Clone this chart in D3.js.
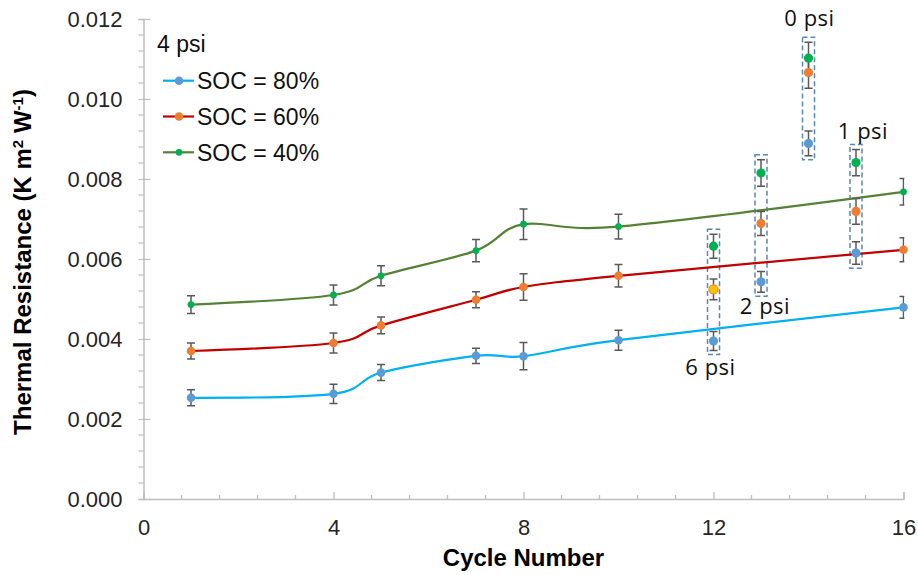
<!DOCTYPE html>
<html>
<head>
<meta charset="utf-8">
<script src="https://cdn.jsdelivr.net/npm/d3@7"></script>
<style>
  body { margin: 0; background: #fff; }
  svg { display: block; font-family: "Liberation Sans", Arial, sans-serif; }
</style>
</head>
<body>
<svg id="chart" width="918" height="575"></svg>
<script>
// cycles with the 4 psi series
const cycles = [1, 4, 5, 7, 8, 10, 16];
const soc80 = [0.00253, 0.00263, 0.00316, 0.00358, 0.00357, 0.00397, 0.00479];
const soc80Err = [0.0002, 0.00024, 0.0002, 0.00019, 0.00034, 0.00025, 0.00027];
const soc60 = [0.0037, 0.0039, 0.00434, 0.00498, 0.0053, 0.00558, 0.00623];
const soc60Err = [0.0002, 0.00025, 0.00021, 0.0002, 0.00033, 0.00028, 0.0003];
const soc40 = [0.00486, 0.0051, 0.00558, 0.00621, 0.00687, 0.00681, 0.00768];
const soc40Err = [0.00022, 0.00025, 0.00025, 0.00028, 0.00038, 0.00031, 0.00033];

// other pressures, single points
const pressureCycles = [12, 13, 14, 15];
const pressureLabels = ["6 psi", "2 psi", "0 psi", "1 psi"];
const p80 = [0.00395, 0.00543, 0.00889, 0.00615];
const p80Err = [0.00024, 0.00026, 0.00031, 0.00028];
const p60 = [0.00524, 0.00689, 0.01066, 0.00719];
const p60Err = [0.00026, 0.0003, 0.00039, 0.00032];
const p40 = [0.00632, 0.00815, 0.01102, 0.00841];
const p40Err = [0.0003, 0.00033, 0.0004, 0.00033];

const legendTitle = "4 psi";
const seriesNames = ["SOC = 80%", "SOC = 60%", "SOC = 40%"];
const xTicks = [0, 4, 8, 12, 16];
const yTicks = [0, 0.002, 0.004, 0.006, 0.008, 0.01, 0.012];

const series = [
	{ name: seriesNames[0], vals: soc80, err: soc80Err, pv: p80, pe: p80Err, line: "#00B0F0", fill: "#5B9BD5", r: 4.3 },
	{ name: seriesNames[1], vals: soc60, err: soc60Err, pv: p60, pe: p60Err, line: "#C00000", fill: "#ED7D31", r: 4.3 },
	{ name: seriesNames[2], vals: soc40, err: soc40Err, pv: p40, pe: p40Err, line: "#548235", fill: "#00B050", r: 3.4 },
];

const svg = d3.select("#chart");
const x = d3.scaleLinear([0, 16], [143.5, 903.5]);
const y = d3.scaleLinear([0, 0.012], [499, 19]);
const axisColor = "#BFBFBF";
const errColor = "#595959";

// axes
const yAxis = svg.append("g")
	.attr("transform", `translate(${x(0)},0)`)
	.call(d3.axisLeft(y).tickValues(yTicks).tickSize(5).tickPadding(16).tickFormat(d3.format(".3f")));
yAxis.selectAll("line").clone().attr("x2", 7);
const xAxis = svg.append("g")
	.attr("transform", `translate(0,${y(0)})`)
	.call(d3.axisBottom(x).tickValues(xTicks).tickSize(-7).tickPadding(20));

for (const ax of [xAxis, yAxis]) {
	ax.select(".domain").attr("stroke", axisColor).attr("stroke-width", 1.5);
	ax.selectAll(".tick line").attr("stroke", axisColor).attr("stroke-width", 1.3);
	ax.selectAll(".tick text").attr("fill", "#262626").style("font-size", "22px");
}

// minor ticks
svg.append("g").selectAll("line")
	.data(d3.range(1, 30).map((i) => i * 0.0004).filter((v) => Math.abs(v / 0.002 - Math.round(v / 0.002)) > 1e-6))
	.join("line")
	.attr("x1", x(0) - 5).attr("x2", x(0))
	.attr("y1", (d) => y(d)).attr("y2", (d) => y(d))
	.attr("stroke", axisColor).attr("stroke-width", 1.3);
svg.append("g").selectAll("line")
	.data(d3.range(1, 20).map((i) => i * 0.8).filter((v) => Math.abs(v / 4 - Math.round(v / 4)) > 1e-6))
	.join("line")
	.attr("x1", (d) => x(d)).attr("x2", (d) => x(d))
	.attr("y1", y(0)).attr("y2", y(0) - 4)
	.attr("stroke", axisColor).attr("stroke-width", 1.3);

// axis titles
svg.append("text")
	.attr("x", x(8)).attr("y", 566)
	.attr("text-anchor", "middle")
	.style("font-size", "24px").style("font-weight", "bold")
	.text("Cycle Number");
const yTitle = svg.append("text")
	.attr("transform", "translate(31,262) rotate(-90)")
	.attr("text-anchor", "middle")
	.style("font-size", "24px").style("font-weight", "bold");
yTitle.append("tspan").text("Thermal Resistance (K m");
yTitle.append("tspan").attr("baseline-shift", "super").style("font-size", "15px").text("2");
yTitle.append("tspan").text(" W");
yTitle.append("tspan").attr("baseline-shift", "super").style("font-size", "15px").text("-1");
yTitle.append("tspan").text(")");

// dashed boxes around the pressure groups
const boxes = pressureCycles.map((c, i) => {
	const tops = series.map((s) => y(s.pv[i] + s.pe[i]));
	const bots = series.map((s) => y(s.pv[i] - s.pe[i]));
	return { c, top: d3.min(tops) - 5, bot: d3.max(bots) + 4 };
});
svg.append("g").selectAll("rect")
	.data(boxes)
	.join("rect")
	.attr("x", (d) => x(d.c) - 6).attr("width", 12)
	.attr("y", (d) => d.top).attr("height", (d) => d.bot - d.top)
	.attr("fill", "none")
	.attr("stroke", "#5B87B8").attr("stroke-width", 1.5)
	.attr("stroke-dasharray", "5,3");

// series lines
const line = d3.line().curve(d3.curveCardinal.tension(0));
svg.append("g").selectAll("path")
	.data(series)
	.join("path")
	.attr("d", (s) => line(cycles.map((c, i) => [x(c), y(s.vals[i])])))
	.attr("fill", "none")
	.attr("stroke", (s) => s.line)
	.attr("stroke-width", 2.2);

// error bars (clipped at the plot edge)
svg.append("clipPath").attr("id", "plotClip")
	.append("rect").attr("x", 0).attr("y", 0).attr("width", x(16) + 0.8).attr("height", 575);
const errData = [];
series.forEach((s) => {
	cycles.forEach((c, i) => errData.push({ c, v: s.vals[i], e: s.err[i] }));
	pressureCycles.forEach((c, i) => errData.push({ c, v: s.pv[i], e: s.pe[i] }));
});
const errG = svg.append("g").attr("clip-path", "url(#plotClip)")
	.attr("stroke", errColor).attr("stroke-width", 1.5);
errG.selectAll("path")
	.data(errData)
	.join("path")
	.attr("fill", "none")
	.attr("d", (d) => {
		const cx = x(d.c), t = y(d.v + d.e), b = y(d.v - d.e);
		return `M${cx - 4},${t}H${cx + 4}M${cx},${t}V${b}M${cx - 4},${b}H${cx + 4}`;
	});

// markers
series.forEach((s, si) => {
	const g = svg.append("g");
	g.selectAll("circle.m")
		.data(cycles.map((c, i) => [c, s.vals[i]]))
		.join("circle")
		.attr("cx", (d) => x(d[0])).attr("cy", (d) => y(d[1]))
		.attr("r", s.r)
		.attr("fill", s.fill);
	g.selectAll("circle.p")
		.data(pressureCycles.map((c, i) => [c, s.pv[i], i]))
		.join("circle")
		.attr("cx", (d) => x(d[0])).attr("cy", (d) => y(d[1]))
		.attr("r", 4.6)
		.attr("fill", (d) => (si === 1 && d[2] === 0 ? "#FFC000" : s.fill))
		.attr("stroke", (d) => (si === 1 && d[2] === 0 ? "#F08A24" : "none"))
		.attr("stroke-width", 1.2);
});

// pressure labels
const labelPlace = { "6 psi": [-3, 4, "bot"], "2 psi": [4, 1, "bot"], "0 psi": [1, -11, "top"], "1 psi": [7, -5, "top"] };
svg.append("g").selectAll("text")
	.data(boxes.map((b, i) => ({ ...b, label: pressureLabels[i] })))
	.join("text")
	.attr("x", (d) => x(d.c) + labelPlace[d.label][0])
	.attr("y", (d) => (labelPlace[d.label][2] === "bot" ? d.bot + labelPlace[d.label][1] : d.top + labelPlace[d.label][1]))
	.attr("dy", (d) => (labelPlace[d.label][2] === "bot" ? "0.75em" : "0"))
	.attr("text-anchor", "middle")
	.style("font-family", "'Open Sans', sans-serif")
	.style("font-size", "22px")
	.style("letter-spacing", "0.5px")
	.attr("fill", "#111")
	.text((d) => d.label);

// legend
const legend = svg.append("g");
legend.append("text")
	.attr("x", 157).attr("y", 52)
	.style("font-size", "23px").attr("fill", "#111")
	.text(legendTitle);
const items = legend.selectAll("g.item")
	.data(series)
	.join("g")
	.attr("transform", (d, i) => `translate(0,${80.7 + i * 35.8})`);
items.append("line")
	.attr("x1", 163).attr("x2", 194)
	.attr("stroke", (d) => d.line).attr("stroke-width", 2.2);
items.append("circle")
	.attr("cx", 179).attr("r", (d) => d.r)
	.attr("fill", (d) => d.fill);
items.append("text")
	.attr("x", 197).attr("dy", "0.36em")
	.style("font-size", "23px").attr("fill", "#111")
	.text((d) => d.name);
</script>
</body>
</html>
